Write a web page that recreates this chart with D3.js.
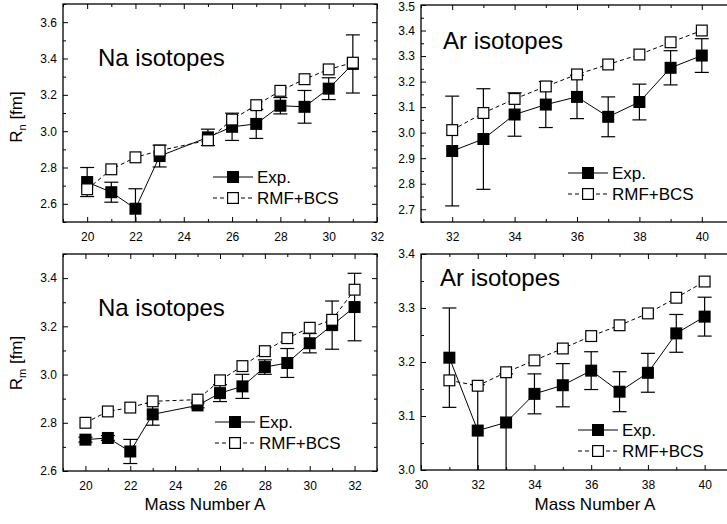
<!DOCTYPE html>
<html lang="en">
<head>
<meta charset="UTF-8">
<title>Rn Rm isotopes</title>
<script src="https://d3js.org/d3.v7.min.js"></script>
<style>
  body { margin: 0; background: #fff; }
  svg { display: block; font-family: "Liberation Sans", Arial, sans-serif; }
</style>
</head>
<body>
<script>
// --- data ---
const naMassRn = [20, 21, 22, 23, 25, 26, 27, 28, 29, 30, 31];
const naRnExp = [2.72, 2.664, 2.573, 2.863, 2.966, 3.024, 3.04, 3.14, 3.134, 3.234, 3.37];
const naRnErr = [0.08, 0.055, 0.11, 0.06, 0.045, 0.075, 0.08, 0.045, 0.09, 0.06, 0.16];
const naRnRmf = [2.68, 2.79, 2.856, 2.893, 2.95, 3.064, 3.143, 3.222, 3.286, 3.34, 3.377];

const arMassRn = [32, 33, 34, 35, 36, 37, 38, 39, 40];
const arRnExp = [2.928, 2.975, 3.071, 3.11, 3.14, 3.062, 3.12, 3.254, 3.302];
const arRnErr = [0.215, 0.197, 0.085, 0.09, 0.085, 0.078, 0.07, 0.067, 0.066];
const arRnRmf = [3.01, 3.077, 3.132, 3.181, 3.228, 3.267, 3.306, 3.354, 3.40];

const naMassRm = [20, 21, 22, 23, 25, 26, 27, 28, 29, 30, 31, 32];
const naRmExp = [2.73, 2.737, 2.681, 2.835, 2.872, 2.923, 2.951, 3.031, 3.048, 3.13, 3.205, 3.28];
const naRmErr = [0.01, 0.01, 0.05, 0.045, 0.01, 0.035, 0.05, 0.03, 0.06, 0.04, 0.1, 0.14];
const naRmRmf = [2.80, 2.847, 2.863, 2.889, 2.896, 2.976, 3.035, 3.097, 3.151, 3.194, 3.227, 3.352];

const arMassRm = [31, 32, 33, 34, 35, 36, 37, 38, 39, 40];
const arRmExp = [3.208, 3.073, 3.088, 3.141, 3.157, 3.184, 3.145, 3.18, 3.253, 3.284];
const arRmErr = [0.092, 0.085, 0.09, 0.037, 0.04, 0.035, 0.037, 0.036, 0.035, 0.036];
const arRmRmf = [3.166, 3.156, 3.181, 3.203, 3.225, 3.248, 3.268, 3.29, 3.319, 3.349];

const naXTicks = [20, 22, 24, 26, 28, 30, 32];
const arRnXTicks = [32, 34, 36, 38, 40];
const arRmXTicks = [30, 32, 34, 36, 38, 40];
const naRnYTicks = [2.6, 2.8, 3.0, 3.2, 3.4, 3.6];
const arRnYTicks = [2.7, 2.8, 2.9, 3.0, 3.1, 3.2, 3.3, 3.4, 3.5];
const naRmYTicks = [2.6, 2.8, 3.0, 3.2, 3.4];
const arRmYTicks = [3.0, 3.1, 3.2, 3.3, 3.4];

const legendLabels = ["Exp.", "RMF+BCS"];

const W = 727, H = 524;
const svg = d3.select("body").append("svg").attr("width", W).attr("height", H);

const panels = [
  { name: "Na isotopes", mass: naMassRn, exp: naRnExp, err: naRnErr, rmf: naRnRmf,
    xd: [19, 32], yd: [2.5, 3.7], xt: naXTicks, yt: naRnYTicks, xm: 1, ym: 0.1,
    box: [63, 4, 377, 222], title: [98, 66], leg: [213, 177] },
  { name: "Ar isotopes", mass: arMassRn, exp: arRnExp, err: arRnErr, rmf: arRnRmf,
    xd: [31, 41], yd: [2.65, 3.5], xt: arRnXTicks, yt: arRnYTicks, xm: 1, ym: 0.05,
    box: [421, 5, 733, 222], title: [443, 49], leg: [568, 173] },
  { name: "Na isotopes", mass: naMassRm, exp: naRmExp, err: naRmErr, rmf: naRmRmf,
    xd: [19, 33], yd: [2.6, 3.5], xt: naXTicks, yt: naRmYTicks, xm: 1, ym: 0.1,
    box: [63, 254, 377, 471], title: [98, 316], leg: [215, 422] },
  { name: "Ar isotopes", mass: arMassRm, exp: arRmExp, err: arRmErr, rmf: arRmRmf,
    xd: [30, 41], yd: [3.0, 3.4], xt: arRmXTicks, yt: arRmYTicks, xm: 1, ym: 0.05,
    box: [421, 254, 733, 470], title: [440, 286], leg: [578, 430] }
];

function range(a, b, s) {
  const out = [];
  for (let v = a; v <= b + 1e-9; v += s) out.push(+v.toFixed(4));
  return out;
}

panels.forEach((p, k) => {
  const [x0, y0, x1, y1] = p.box;
  const x = d3.scaleLinear().domain(p.xd).range([x0, x1]);
  const y = d3.scaleLinear().domain(p.yd).range([y1, y0]);
  const g = svg.append("g");

  const clipId = "clip" + k;
  svg.append("clipPath").attr("id", clipId)
    .append("rect").attr("x", x0).attr("y", y0).attr("width", x1 - x0).attr("height", y1 - y0);

  // ticks: inward on all sides
  const minorX = range(Math.ceil(p.xd[0]), p.xd[1], p.xm);
  const minorY = range(Math.ceil(p.yd[0] / p.ym - 1e-6) * p.ym, p.yd[1], p.ym);
  const fmt = d3.format(".1f");

  const bottom = d3.axisBottom(x).tickValues(minorX).tickSizeInner(0).tickSizeOuter(0).tickFormat("");
  g.append("g").attr("transform", `translate(0,${y1})`).call(bottom)
    .call(s => s.selectAll(".tick line").attr("y2", d => p.xt.includes(d) ? -5 : -3))
    .call(s => s.select(".domain").remove());
  g.append("g").attr("transform", `translate(0,${y0})`).call(bottom)
    .call(s => s.selectAll(".tick line").attr("y2", d => p.xt.includes(d) ? 5 : 3))
    .call(s => s.select(".domain").remove());

  const left = d3.axisLeft(y).tickValues(minorY).tickSizeInner(0).tickSizeOuter(0).tickFormat("");
  const isMajorY = d => p.yt.some(t => Math.abs(t - d) < 1e-6);
  g.append("g").attr("transform", `translate(${x0},0)`).call(left)
    .call(s => s.selectAll(".tick line").attr("x2", d => isMajorY(d) ? 5 : 3))
    .call(s => s.select(".domain").remove());
  g.append("g").attr("transform", `translate(${x1},0)`).call(left)
    .call(s => s.selectAll(".tick line").attr("x2", d => isMajorY(d) ? -5 : -3))
    .call(s => s.select(".domain").remove());
  g.selectAll(".tick line").attr("stroke", "#000").attr("stroke-width", 1);

  // tick labels
  g.append("g").attr("transform", `translate(0,${y1})`)
    .call(d3.axisBottom(x).tickValues(p.xt).tickSize(0).tickPadding(10).tickFormat(d3.format("d")))
    .call(s => s.select(".domain").remove())
    .selectAll("text").attr("font-size", 12).attr("fill", "#000");
  g.append("g").attr("transform", `translate(${x0},0)`)
    .call(d3.axisLeft(y).tickValues(p.yt).tickSize(0).tickPadding(6).tickFormat(fmt))
    .call(s => s.select(".domain").remove())
    .call(s => s.selectAll(".tick").filter(d => y(d) < 7)
      .attr("transform", `translate(0,7)`))
    .selectAll("text").attr("font-size", 12).attr("fill", "#000");

  // frame
  g.append("rect").attr("x", x0).attr("y", y0).attr("width", x1 - x0).attr("height", y1 - y0)
    .attr("fill", "none").attr("stroke", "#000").attr("stroke-width", 1.3);

  const plot = g.append("g").attr("clip-path", `url(#${clipId})`);
  const exp = p.mass.map((m, i) => ({ m, v: p.exp[i], e: p.err[i] }));
  const rmf = p.mass.map((m, i) => ({ m, v: p.rmf[i] }));
  const line = d3.line().x(d => x(d.m)).y(d => y(d.v));

  plot.append("path").datum(rmf).attr("d", line)
    .attr("fill", "none").attr("stroke", "#000").attr("stroke-width", 1).attr("stroke-dasharray", "4,3");
  plot.append("path").datum(exp).attr("d", line)
    .attr("fill", "none").attr("stroke", "#000").attr("stroke-width", 1);

  // error bars
  const eb = plot.selectAll(".eb").data(exp).enter().append("g").attr("class", "eb")
    .attr("stroke", "#000").attr("stroke-width", 1.2);
  eb.append("line").attr("x1", d => x(d.m)).attr("x2", d => x(d.m))
    .attr("y1", d => y(d.v - d.e)).attr("y2", d => y(d.v + d.e));
  eb.append("line").attr("x1", d => x(d.m) - 7).attr("x2", d => x(d.m) + 7)
    .attr("y1", d => y(d.v + d.e)).attr("y2", d => y(d.v + d.e));
  eb.append("line").attr("x1", d => x(d.m) - 7).attr("x2", d => x(d.m) + 7)
    .attr("y1", d => y(d.v - d.e)).attr("y2", d => y(d.v - d.e));

  const s = 12;
  g.selectAll(".fsq").data(exp).enter().append("rect")
    .attr("x", d => x(d.m) - s / 2).attr("y", d => y(d.v) - s / 2)
    .attr("width", s).attr("height", s).attr("fill", "#000");
  g.selectAll(".osq").data(rmf).enter().append("rect")
    .attr("x", d => x(d.m) - s / 2 + 0.6).attr("y", d => y(d.v) - s / 2 + 0.6)
    .attr("width", s - 1.2).attr("height", s - 1.2)
    .attr("fill", "#fff").attr("stroke", "#000").attr("stroke-width", 1.2);

  // panel name
  g.append("text").attr("x", p.title[0]).attr("y", p.title[1])
    .attr("font-size", 24).attr("fill", "#000").text(p.name);

  // legend
  const [lx, ly] = p.leg;
  const lg = g.append("g");
  lg.append("line").attr("x1", lx).attr("x2", lx + 40).attr("y1", ly).attr("y2", ly)
    .attr("stroke", "#000").attr("stroke-width", 1);
  lg.append("rect").attr("x", lx + 20 - s / 2).attr("y", ly - s / 2).attr("width", s).attr("height", s).attr("fill", "#000");
  lg.append("text").attr("x", lx + 44).attr("y", ly + 6).attr("font-size", 17).text(legendLabels[0]);
  lg.append("line").attr("x1", lx).attr("x2", lx + 40).attr("y1", ly + 21).attr("y2", ly + 21)
    .attr("stroke", "#000").attr("stroke-width", 1).attr("stroke-dasharray", "4,3");
  lg.append("rect").attr("x", lx + 20 - s / 2 + 0.6).attr("y", ly + 21 - s / 2 + 0.6)
    .attr("width", s - 1.2).attr("height", s - 1.2)
    .attr("fill", "#fff").attr("stroke", "#000").attr("stroke-width", 1.2);
  lg.append("text").attr("x", lx + 44).attr("y", ly + 27).attr("font-size", 17).text(legendLabels[1]);
});

// axis titles
const rn = svg.append("text").attr("transform", "translate(22,117) rotate(-90)")
  .attr("text-anchor", "middle").attr("font-size", 17);
rn.append("tspan").text("R");
rn.append("tspan").attr("font-size", 11).attr("dy", 4).text("n");
rn.append("tspan").attr("dy", -4).text(" [fm]");

const rm = svg.append("text").attr("transform", "translate(22,363) rotate(-90)")
  .attr("text-anchor", "middle").attr("font-size", 17);
rm.append("tspan").text("R");
rm.append("tspan").attr("font-size", 11).attr("dy", 4).text("m");
rm.append("tspan").attr("dy", -4).text(" [fm]");

svg.append("text").attr("x", 205).attr("y", 510).attr("text-anchor", "middle")
  .attr("font-size", 17).text("Mass Number A");
svg.append("text").attr("x", 595).attr("y", 510).attr("text-anchor", "middle")
  .attr("font-size", 17).text("Mass Number A");
</script>
</body>
</html>
